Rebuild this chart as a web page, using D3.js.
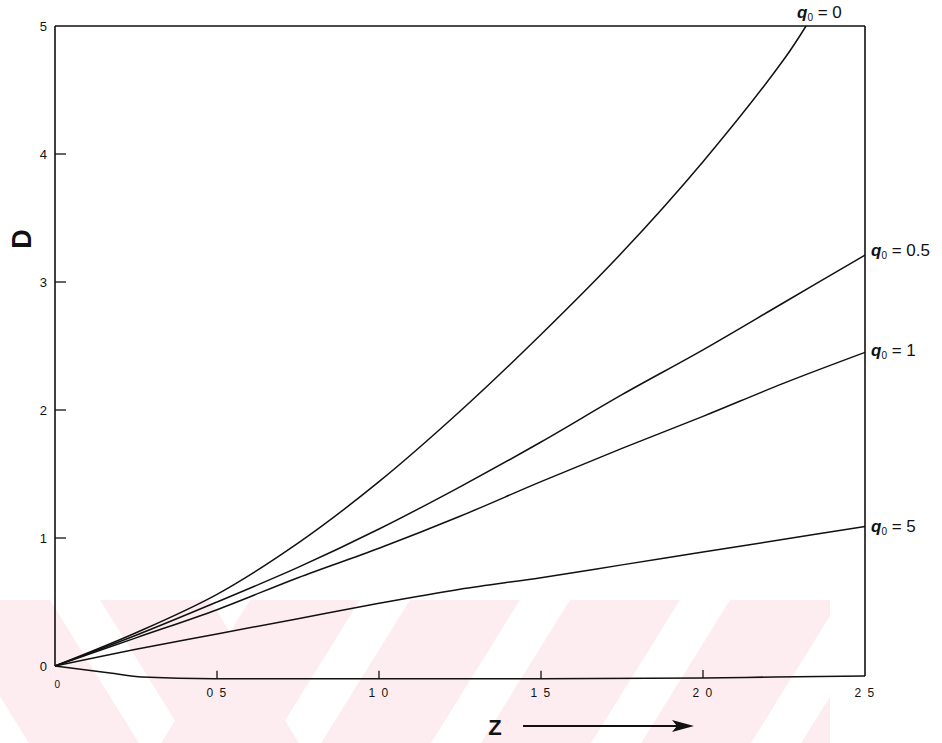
<!DOCTYPE html>
<html><head><meta charset="utf-8">
<script src="https://cdn.jsdelivr.net/npm/d3@7/dist/d3.min.js"></script>
<style>body{margin:0;background:#fff}svg{display:block}</style>
</head><body>
<script>
// ---- data ----
const zGrid = [0, 0.25, 0.5, 0.75, 1.0, 1.25, 1.5, 1.75, 2.0, 2.25, 2.5];
const zQ0 = [0, 0.25, 0.5, 0.75, 1.0, 1.25, 1.5, 1.75, 2.0, 2.25, 2.318];
const dQ0 = [0, 0.26, 0.56, 0.96, 1.44, 1.99, 2.59, 3.23, 3.94, 4.74, 5.0];
const dQ05 = [0, 0.24, 0.50, 0.77, 1.07, 1.40, 1.75, 2.12, 2.47, 2.84, 3.21];
const dQ1 = [0, 0.22, 0.44, 0.69, 0.92, 1.17, 1.44, 1.70, 1.95, 2.21, 2.45];
const dQ5 = [0, 0.13, 0.25, 0.37, 0.49, 0.60, 0.69, 0.79, 0.89, 0.99, 1.09];
const bottomZ = [0, 0.17, 0.27, 0.49, 0.82, 1.5, 2.0, 2.22, 2.5];
const bottomD = [0, -0.055, -0.086, -0.10, -0.10, -0.10, -0.094, -0.086, -0.078];
const xTicks = [0, 0.5, 1.0, 1.5, 2.0, 2.5];
const xTickLabels = ["0", "0 5", "1 0", "1 5", "2 0", "2 5"];
const yTicks = [0, 1, 2, 3, 4, 5];
const yTickLabels = ["0", "1", "2", "3", "4", "5"];
const seriesLabels = ["0", "0.5", "1", "5"];

const W = 942, H = 743;
const svg = d3.select("body").append("svg").attr("width", W).attr("height", H);
const x = d3.scaleLinear().domain([0, 2.5]).range([55, 865]);
const y = d3.scaleLinear().domain([0, 5]).range([666, 26]);

// ---- watermark (decorative stripes) ----
const wm = svg.append("g");
const defs = svg.append("defs");
defs.append("clipPath").attr("id", "band").append("rect").attr("x", 0).attr("y", 600).attr("width", 830).attr("height", 143);
const wmg = wm.append("g").attr("clip-path", "url(#band)");
const pink = "#fdedf0";
for (let k = 0; k < 6; k++) {
  const x0 = 250 + k * 160;
  wmg.append("path").attr("fill", pink)
    .attr("d", `M${x0},600 L${x0 + 110},600 L${x0 + 110 - 89},743 L${x0 - 89},743 Z`);
}
for (let k = 0; k < 2; k++) {
  const x0 = -60 + k * 160;
  wmg.append("path").attr("fill", pink)
    .attr("d", `M${x0},600 L${x0 + 110},600 L${x0 + 110 + 89},743 L${x0 + 89},743 Z`);
}

// ---- frame ----
const ink = "#111";
const g = svg.append("g").attr("fill", "none").attr("stroke", ink).attr("stroke-width", 1.6);
g.append("line").attr("x1", x(0)).attr("x2", x(0)).attr("y1", y(5)).attr("y2", y(0));
g.append("line").attr("x1", x(0)).attr("x2", x(2.5)).attr("y1", y(5)).attr("y2", y(5));
g.append("line").attr("x1", x(2.5)).attr("x2", x(2.5)).attr("y1", y(5)).attr("y2", y(bottomD[bottomD.length - 1]));
const bottomLine = d3.line().x(d => x(d[0])).y(d => y(d[1])).curve(d3.curveMonotoneX);
g.append("path").attr("d", bottomLine(d3.zip(bottomZ, bottomD)));

const bottomAt = d3.scaleLinear().domain(bottomZ).range(bottomD);
xTicks.slice(1, -1).forEach(t => {
  const yb = y(bottomAt(t));
  g.append("line").attr("x1", x(t)).attr("x2", x(t)).attr("y1", yb).attr("y2", yb - 8).attr("stroke-width", 1.3);
});
yTicks.slice(1, -1).forEach(t => {
  g.append("line").attr("x1", x(0)).attr("x2", x(0) + 11).attr("y1", y(t)).attr("y2", y(t)).attr("stroke-width", 1.3);
});

const lab = svg.append("g").attr("font-family", "Liberation Sans, Arial, sans-serif").attr("fill", ink);
yTicks.forEach((t, i) => {
  lab.append("text").attr("x", 47).attr("y", y(t)).attr("dy", "0.35em").attr("text-anchor", "end")
    .attr("font-size", 13).text(yTickLabels[i]);
});
xTicks.forEach((t, i) => {
  lab.append("text").attr("x", x(t) + (i === 0 ? 3 : 0)).attr("y", i === 0 ? 684 : 693)
    .attr("dy", "0.35em").attr("text-anchor", "middle")
    .attr("font-size", i === 0 ? 10 : 12).attr("letter-spacing", 1.5).text(xTickLabels[i]);
});

// ---- curves ----
const line = d3.line().x(d => x(d[0])).y(d => y(d[1])).curve(d3.curveCatmullRom.alpha(0.5));
const curves = [d3.zip(zQ0, dQ0), d3.zip(zGrid, dQ05), d3.zip(zGrid, dQ1), d3.zip(zGrid, dQ5)];
svg.append("g").attr("fill", "none").attr("stroke", ink).attr("stroke-width", 1.5)
  .selectAll("path").data(curves).join("path").attr("d", line);

// ---- curve labels ----
const labelPos = [[797, 12], [871, 250], [871, 350], [871, 526]];
seriesLabels.forEach((s, i) => {
  const t = lab.append("text").attr("x", labelPos[i][0]).attr("y", labelPos[i][1]).attr("dy", "0.35em").attr("font-size", 17);
  t.append("tspan").attr("font-style", "italic").attr("font-weight", "bold").text("q");
  t.append("tspan").attr("font-size", 10).attr("dy", 3).text("0");
  t.append("tspan").attr("dy", -3).text(" = " + s);
});

// ---- axis titles ----
lab.append("text").attr("transform", "translate(31,239) rotate(-90)").attr("text-anchor", "middle")
  .attr("font-size", 27).attr("font-weight", "bold").text("D");
lab.append("text").attr("x", 495).attr("y", 727).attr("dy", "0.35em").attr("text-anchor", "middle")
  .attr("font-size", 22).attr("font-weight", "bold").text("Z");
svg.append("line").attr("x1", 523).attr("x2", 680).attr("y1", 726).attr("y2", 726).attr("stroke", ink).attr("stroke-width", 2);
svg.append("path").attr("d", "M672,720 L694,726 L672,732 L677,726 Z").attr("fill", ink);
</script>
</body></html>
